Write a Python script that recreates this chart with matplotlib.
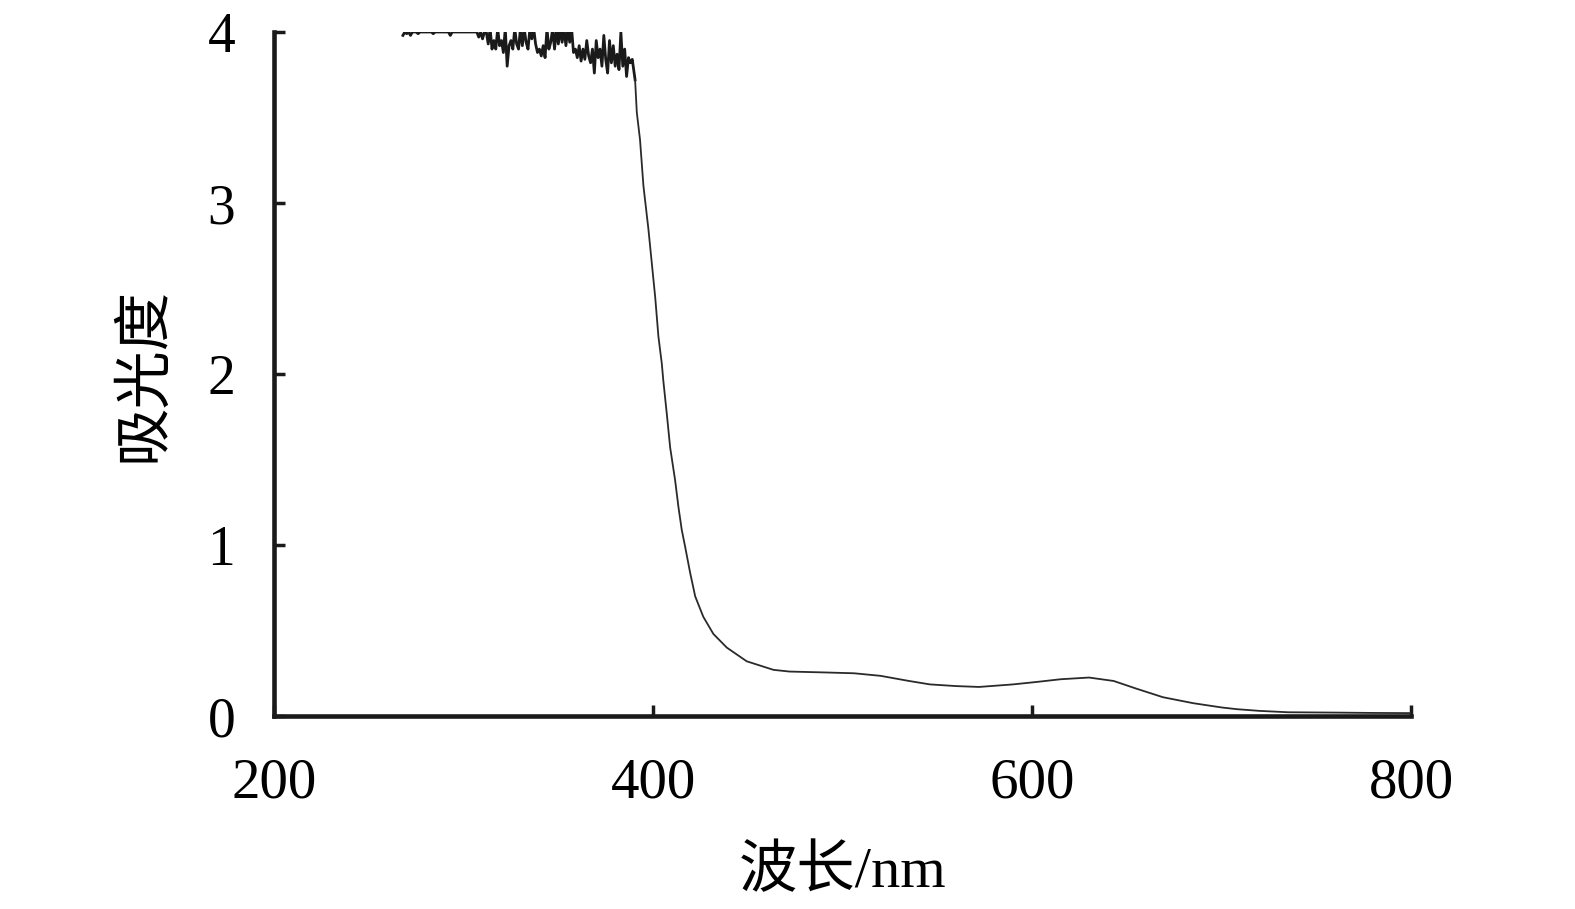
import matplotlib
matplotlib.use('Agg')
import matplotlib.pyplot as plt

# Noisy saturated part (the signal sits on the top limit of 4 with downward spikes)
wl_noise = list(range(268, 390))
abs_noise = [
    3.98, 4.00, 3.99, 4.00, 3.98, 4.00, 4.00, 4.00, 3.99, 4.00,
    4.00, 4.00, 4.00, 4.00, 4.00, 4.00, 3.99, 4.00, 4.00, 4.00,
    4.00, 4.00, 4.00, 4.00, 4.00, 3.98, 4.00, 4.00, 4.00, 4.00,
    4.00, 4.00, 4.00, 4.00, 4.00, 4.00, 4.00, 4.00, 4.00, 4.00,
    3.97, 4.00, 3.96, 4.00, 4.00, 3.93, 4.02, 3.90, 3.95, 3.90,
    4.02, 3.92, 3.95, 3.88, 4.02, 3.80, 3.92, 3.95, 3.90, 4.02,
    3.93, 3.90, 4.02, 3.92, 4.02, 3.94, 3.90, 4.02, 3.96, 4.02,
    3.93, 3.88, 3.90, 3.86, 3.92, 3.85, 4.02, 3.90, 3.94, 4.02,
    3.90, 4.02, 3.93, 4.02, 3.94, 4.02, 3.92, 4.02, 3.94, 4.02,
    3.88, 3.90, 3.85, 3.92, 3.83, 3.90, 3.84, 3.95, 3.86, 3.82,
    3.90, 3.76, 3.95, 3.85, 3.90, 3.80, 3.98, 3.84, 3.76, 3.95,
    3.82, 3.92, 3.80, 3.87, 3.78, 4.00, 3.80, 3.90, 3.74, 3.85,
    3.82, 3.84,
]

# Absorption edge and visible region
wl_main = [390.5, 391.4, 393.1, 394.9, 397.5, 399.3, 401.1, 402.8, 404.6, 405.4,
           407.2, 409.0, 411.6, 413.4, 415.1, 416.9, 419.5, 422.2, 426.5, 431.8,
           438.9, 449.4, 463.5, 472, 490, 506, 520, 535, 546, 560,
           572, 590, 603, 615, 630, 643, 655, 669, 685, 700,
           708, 720, 735, 760, 780, 800]
abs_main = [3.72, 3.53, 3.37, 3.10, 2.85, 2.65, 2.45, 2.22, 2.06, 1.96,
            1.77, 1.57, 1.38, 1.22, 1.09, 0.99, 0.84, 0.70, 0.58, 0.48,
            0.40, 0.32, 0.27, 0.26, 0.255, 0.25, 0.235, 0.205, 0.185, 0.175,
            0.17, 0.185, 0.20, 0.215, 0.225, 0.205, 0.16, 0.11, 0.075, 0.05,
            0.04, 0.03, 0.022, 0.02, 0.018, 0.017]

plt.rcParams['font.family'] = ['Liberation Serif', 'Noto Sans CJK SC']

fig = plt.figure(figsize=(15.75, 9.09), dpi=100)
ax = fig.add_axes([0.174, 0.2123, 0.722, 0.7525])

# noisy part drawn a bit heavier, as in the scanned spectrum
ax.plot(wl_noise + wl_main[:1], abs_noise + abs_main[:1], color='#1a1a1a', linewidth=2.0)
ax.plot(wl_main, abs_main, color='#2a2a2a', linewidth=1.3)

ax.set_xlim(200, 800)
ax.set_ylim(0, 4)
ax.set_xticks([200, 400, 600, 800])
ax.set_yticks([0, 1, 2, 3, 4])

for side in ['top', 'right']:
    ax.spines[side].set_visible(False)
for side in ['left', 'bottom']:
    ax.spines[side].set_linewidth(3.3)
    ax.spines[side].set_color('#1a1a1a')

ax.tick_params(axis='both', direction='in', length=8, width=2.5, color='#1a1a1a')
ax.tick_params(axis='x', labelsize=41, pad=30)
ax.tick_params(axis='y', labelsize=40, pad=28)

ax.set_xlabel('波长/nm', fontsize=42)
ax.set_ylabel('吸光度', fontsize=42)
ax.xaxis.set_label_coords(0.5, -0.19)
ax.yaxis.set_label_coords(-0.09, 0.5)

fig.savefig('out.png', dpi=100, facecolor='white')
